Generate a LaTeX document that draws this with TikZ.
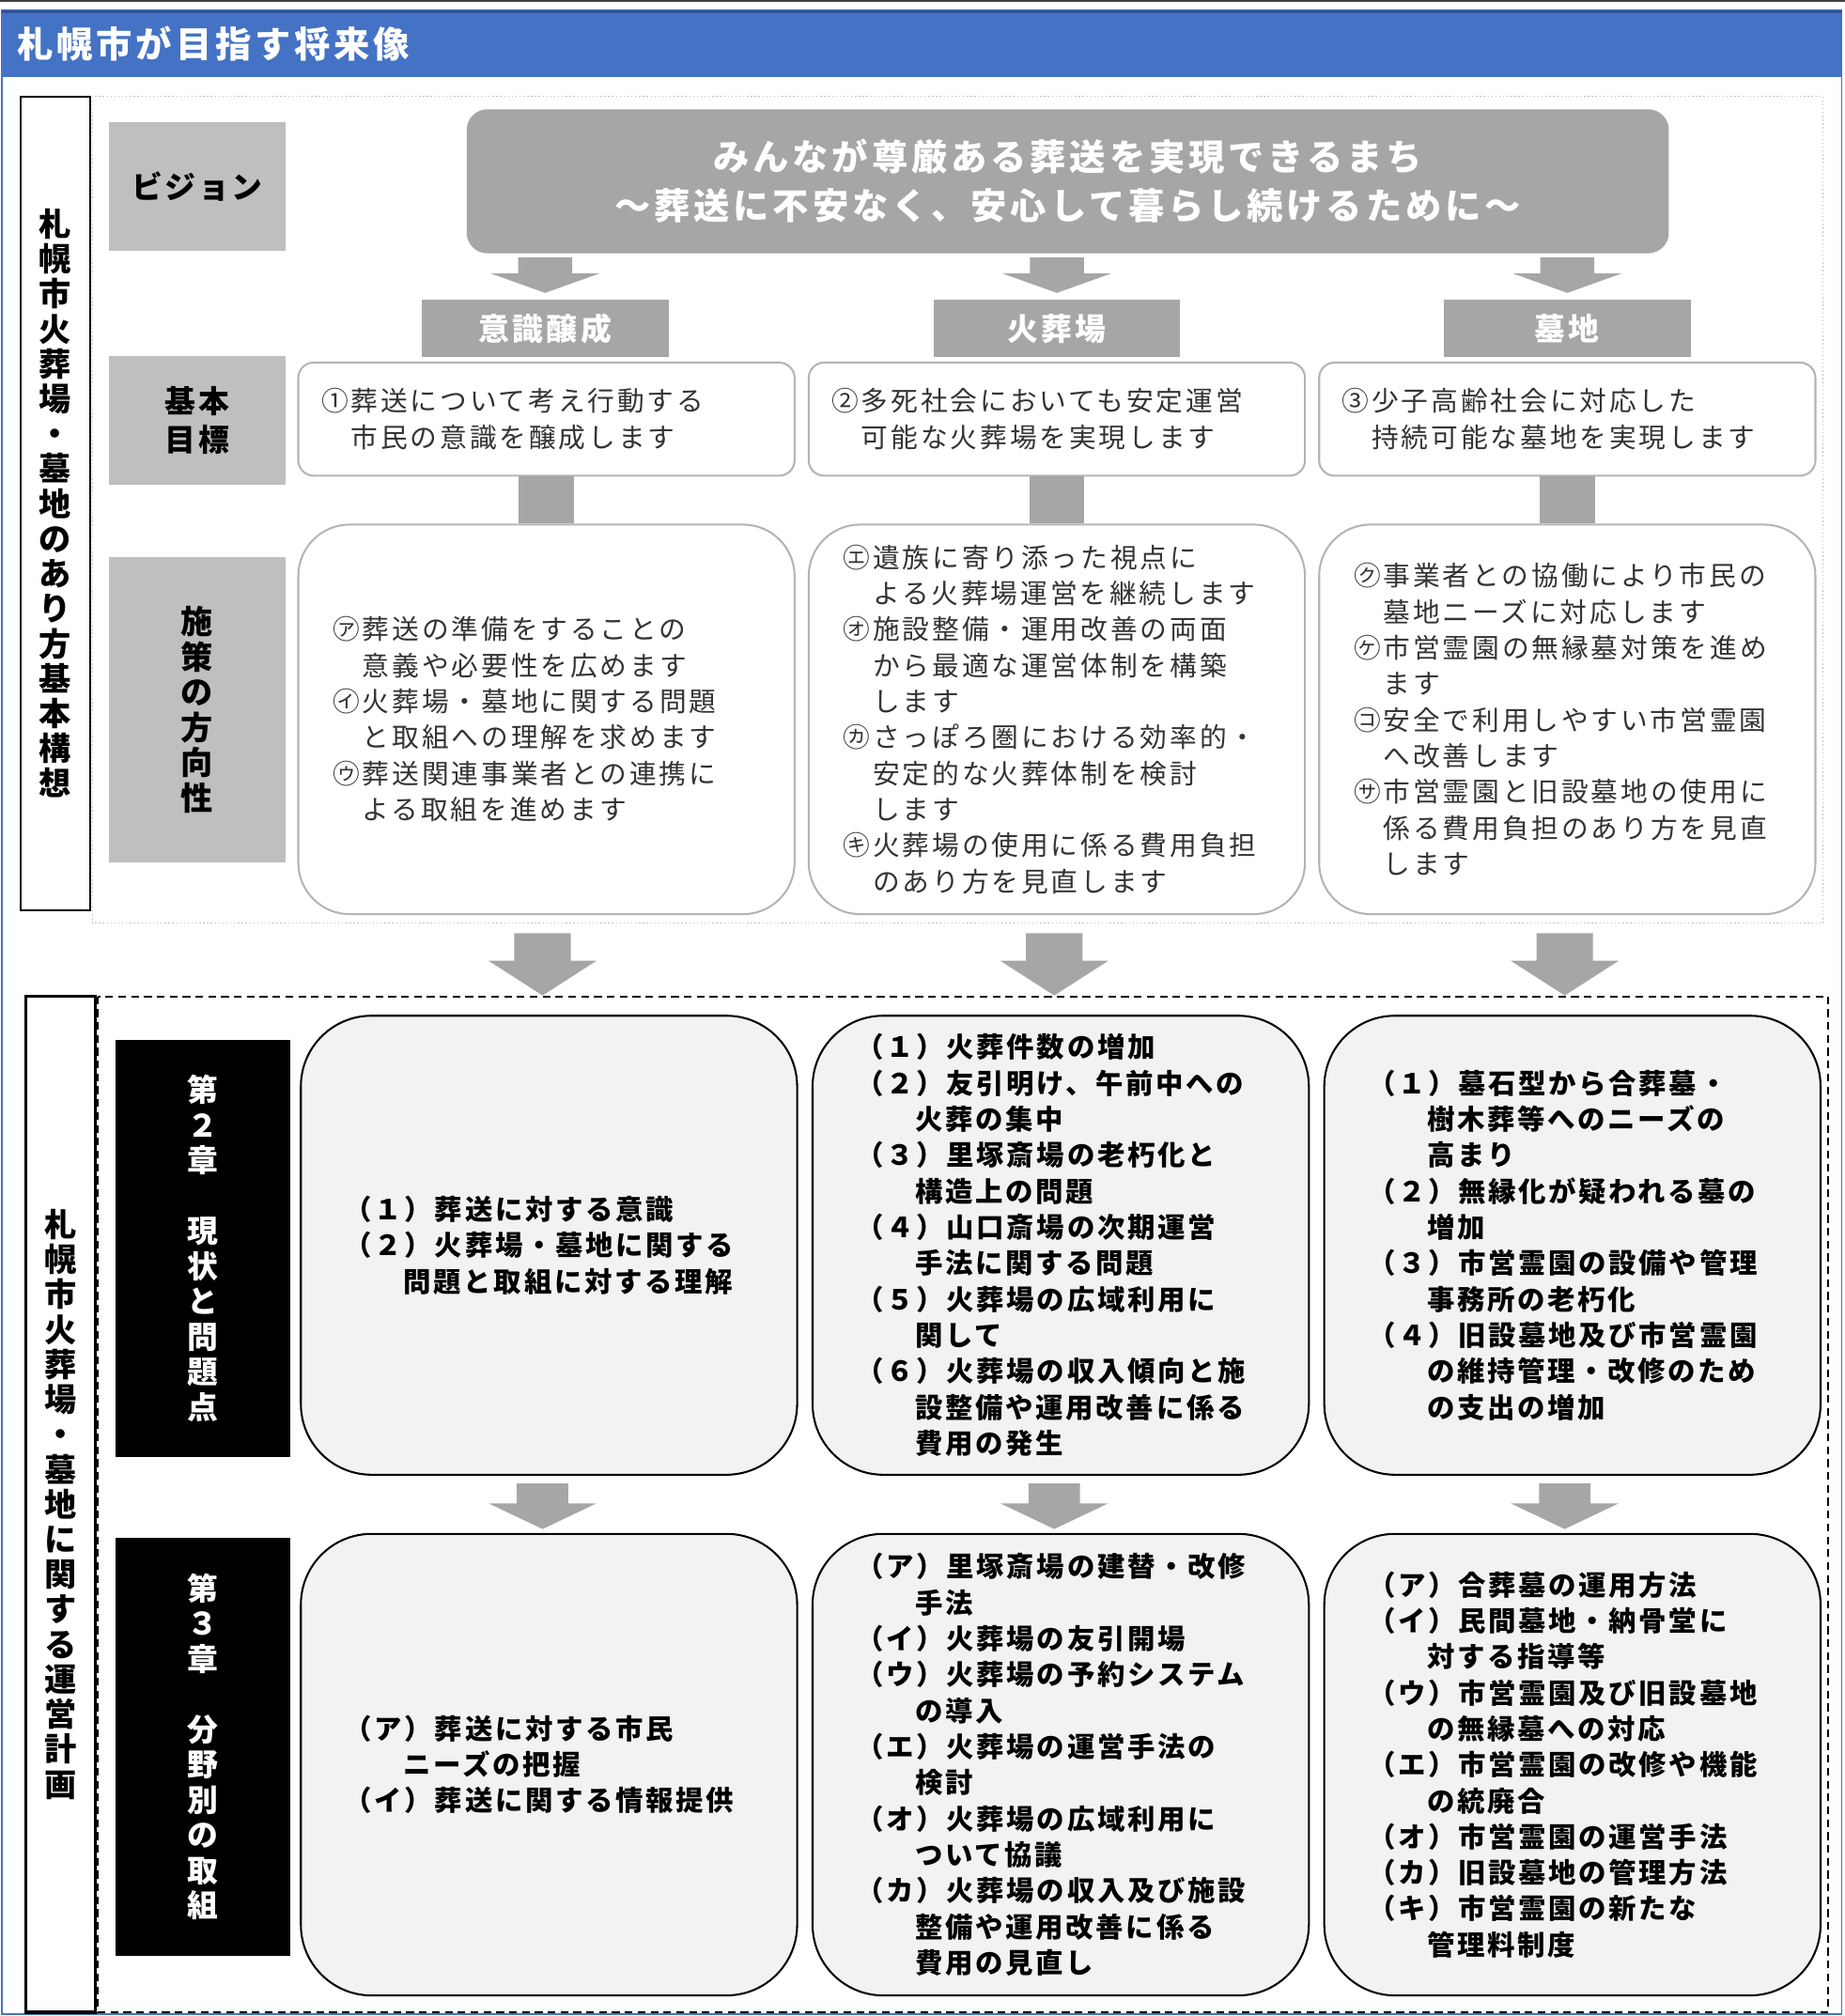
\documentclass[tikz,border=0pt]{standalone}
\usepackage{fontspec}
\setmainfont{Noto Sans CJK JP}
\usepackage{tikz}
\usetikzlibrary{calc, positioning}

\definecolor{headblue}{HTML}{4472C4}
\definecolor{headline}{HTML}{2F5597}
\definecolor{lblgray}{HTML}{BFBFBF}
\definecolor{midgray}{HTML}{A6A6A6}
\definecolor{boxline}{HTML}{B4B4B4}
\definecolor{boxfill}{HTML}{F2F2F2}

\newcommand{\uppertxt}{\fontsize{21}{28}\selectfont\addfontfeature{LetterSpace=10}}
\newcommand{\lowertxt}{\bfseries\fontsize{21.5}{28}\selectfont\addfontfeature{LetterSpace=9}}
\newcommand{\labeltxt}{\bfseries\fontsize{24}{30}\selectfont\addfontfeature{LetterSpace=8}}
\newcommand{\indt}{\hspace*{46pt}}
\newcommand{\sub}{\hspace*{23pt}}
\newcommand{\mk}[1]{\makebox[23pt][l]{#1}}
% block arrow: top point, tip point, half shaft, half head, head length
\newcommand{\blockarrow}[5]{%
  \fill[arrowfill] let \p1=#1, \p2=#2 in
    (\x1-#3,\y1) -- (\x1+#3,\y1) -- (\x1+#3,\y2+#5) -- (\x1+#4,\y2+#5)
    -- (\x1,\y2) -- (\x1-#4,\y2+#5) -- (\x1-#3,\y2+#5) -- cycle;}

\tikzstyle{rowlabel} = [rectangle, fill=lblgray, minimum width=137pt, inner sep=0pt, align=center, font=\labeltxt]
\tikzstyle{chaplabel} = [rectangle, fill=black, text=white, minimum width=136pt, inner sep=0pt, align=center, font=\bfseries\fontsize{24}{27.4}\selectfont]
\tikzstyle{planlabel} = [rectangle, draw=black, line width=1.5pt, minimum width=54pt, inner sep=0pt, align=center, font=\bfseries\fontsize{25}{27.2}\selectfont]
\tikzstyle{catlabel} = [rectangle, fill=midgray, text=white, minimum width=192pt, minimum height=45pt, inner sep=0pt, font=\bfseries\fontsize{24}{26}\selectfont\addfontfeature{LetterSpace=10}]
\tikzstyle{goalbox} = [rectangle, rounded corners=12pt, draw=boxline, line width=1.5pt, fill=white, inner ysep=0pt, inner xsep=18pt, text width=350pt, minimum height=88pt, align=left, text=black!80, font=\uppertxt]
\tikzstyle{policybox} = [goalbox, rounded corners=40pt, inner xsep=27pt, text width=332pt, minimum height=303pt]
\tikzstyle{planbox} = [rectangle, rounded corners=55pt, draw=black, line width=1.5pt, fill=boxfill, inner ysep=0pt, inner xsep=34pt, text width=318pt, align=left, font=\lowertxt]
\tikzstyle{arrowfill} = [fill=midgray]

\begin{document}
\begin{tikzpicture}[x=1pt, y=-1pt]
\useasboundingbox (0,0) rectangle (1435,1568);

% frame and header
\draw[black!75, line width=1.2pt] (0,0.6) -- (1435,0.6);
\draw[headblue, line width=1.2pt] (1.5,8) rectangle (1432.5,1566.5);
\fill[headblue] (1.5,8) rectangle (1432.5,60);
\draw[headline, line width=2pt] (1.5,9) -- (1432.5,9);
\node (title) [anchor=west, text=white, font=\bfseries\fontsize{28}{30}\selectfont\addfontfeature{LetterSpace=10}] at (10,34) {札幌市が目指す将来像};

% upper part: basic concept
\draw[lblgray, dotted, line width=1pt] (72,75) rectangle (1418,718);
\node (plan1) [planlabel, minimum height=633pt] at (43,391.5) {札\\幌\\市\\火\\葬\\場\\・\\墓\\地\\の\\あ\\り\\方\\基\\本\\構\\想};

\node (lblvision) [rowlabel, minimum height=100pt] at (153.5,145) {ビジョン};
\node (lblgoal) [rowlabel, minimum height=100pt] at (153.5,327) {基本\\目標};
\node (lblpolicy) [rowlabel, minimum height=238pt, font=\bfseries\fontsize{25}{27.5}\selectfont] at (153.5,552) {施\\策\\の\\方\\向\\性};

\node (vision) [rectangle, rounded corners=16pt, fill=midgray, text=white, minimum width=935pt, minimum height=112pt, align=center, font=\bfseries\fontsize{28}{38}\selectfont\addfontfeature{LetterSpace=10}] at (830.5,141) {みんなが尊厳ある葬送を実現できるまち\\～葬送に不安なく、安心して暮らし続けるために～};

\node (catAware) [catlabel] at (424,255.5) {意識醸成};
\node (catCrem) [catlabel] at (822,255.5) {火葬場};
\node (catCem) [catlabel] at (1219,255.5) {墓地};

\node (goalA) [goalbox] at (425,326) {\mk{①}葬送について考え行動する\\\sub 市民の意識を醸成します};
\node (goalB) [goalbox] at (822,326) {\mk{②}多死社会においても安定運営\\\sub 可能な火葬場を実現します};
\node (goalC) [goalbox] at (1219,326) {\mk{③}少子高齢社会に対応した\\\sub 持続可能な墓地を実現します};

\node (policyA) [policybox] at (425,559.5) {\mk{㋐}葬送の準備をすることの\\\sub 意義や必要性を広めます\\\mk{㋑}火葬場・墓地に関する問題\\\sub と取組への理解を求めます\\\mk{㋒}葬送関連事業者との連携に\\\sub よる取組を進めます};
\node (policyB) [policybox] at (822,559.5) {\mk{㋓}遺族に寄り添った視点に\\\sub よる火葬場運営を継続します\\\mk{㋔}施設整備・運用改善の両面\\\sub から最適な運営体制を構築\\\sub します\\\mk{㋕}さっぽろ圏における効率的・\\\sub 安定的な火葬体制を検討\\\sub します\\\mk{㋖}火葬場の使用に係る費用負担\\\sub のあり方を見直します};
\node (policyC) [policybox] at (1219,559.5) {\mk{㋗}事業者との協働により市民の\\\sub 墓地ニーズに対応します\\\mk{㋘}市営霊園の無縁墓対策を進め\\\sub ます\\\mk{㋙}安全で利用しやすい市営霊園\\\sub へ改善します\\\mk{㋚}市営霊園と旧設墓地の使用に\\\sub 係る費用負担のあり方を見直\\\sub します};

% connectors, upper part
\blockarrow{($(vision.south -| catAware)+(0,3)$)}{($(catAware.north)+(0,-5)$)}{21pt}{42pt}{15pt}
\blockarrow{($(vision.south -| catCrem)+(0,3)$)}{($(catCrem.north)+(0,-5)$)}{21pt}{42pt}{15pt}
\blockarrow{($(vision.south -| catCem)+(0,3)$)}{($(catCem.north)+(0,-5)$)}{21pt}{42pt}{15pt}
\foreach \c in {A,B,C}
  \fill[arrowfill] ($(goal\c.south)+(-21.5,0)$) rectangle ($(policy\c.north)+(21.5,0)$);

% lower part: operation plan
\draw[black, dashed, dash pattern=on 6pt off 4pt, line width=1.2pt] (76,775) rectangle (1422,1565);
\node (plan2) [planlabel, line width=2.5pt, minimum height=790pt] at (47,1170) {札\\幌\\市\\火\\葬\\場\\・\\墓\\地\\に\\関\\す\\る\\運\\営\\計\\画};

\node (ch2) [chaplabel, minimum height=324pt] at (158,971) {第\\２\\章\\　\\現\\状\\と\\問\\題\\点};
\node (ch3) [chaplabel, minimum height=325pt] at (158,1358.5) {第\\３\\章\\　\\分\\野\\別\\の\\取\\組};

\node (issueA) [planbox, minimum height=357pt] at (427,968.5) {（１）葬送に対する意識\\（２）火葬場・墓地に関する\\\indt 問題と取組に対する理解};
\node (issueB) [planbox, minimum height=357pt] at (825,968.5) {（１）火葬件数の増加\\（２）友引明け、午前中への\\\indt 火葬の集中\\（３）里塚斎場の老朽化と\\\indt 構造上の問題\\（４）山口斎場の次期運営\\\indt 手法に関する問題\\（５）火葬場の広域利用に\\\indt 関して\\（６）火葬場の収入傾向と施\\\indt 設整備や運用改善に係る\\\indt 費用の発生};
\node (issueC) [planbox, minimum height=357pt] at (1223,968.5) {（１）墓石型から合葬墓・\\\indt 樹木葬等へのニーズの\\\indt 高まり\\（２）無縁化が疑われる墓の\\\indt 増加\\（３）市営霊園の設備や管理\\\indt 事務所の老朽化\\（４）旧設墓地及び市営霊園\\\indt の維持管理・改修のため\\\indt の支出の増加};

\node (actA) [planbox, minimum height=359pt] at (427,1372.5) {（ア）葬送に対する市民\\\indt ニーズの把握\\（イ）葬送に関する情報提供};
\node (actB) [planbox, minimum height=359pt] at (825,1372.5) {（ア）里塚斎場の建替・改修\\\indt 手法\\（イ）火葬場の友引開場\\（ウ）火葬場の予約システム\\\indt の導入\\（エ）火葬場の運営手法の\\\indt 検討\\（オ）火葬場の広域利用に\\\indt ついて協議\\（カ）火葬場の収入及び施設\\\indt 整備や運用改善に係る\\\indt 費用の見直し};
\node (actC) [planbox, minimum height=359pt] at (1223,1372.5) {（ア）合葬墓の運用方法\\（イ）民間墓地・納骨堂に\\\indt 対する指導等\\（ウ）市営霊園及び旧設墓地\\\indt の無縁墓への対応\\（エ）市営霊園の改修や機能\\\indt の統廃合\\（オ）市営霊園の運営手法\\（カ）旧設墓地の管理方法\\（キ）市営霊園の新たな\\\indt 管理料制度};

% connectors, lower part
\blockarrow{($(policyA.south)+(-3,14)$)}{($(issueA.north)+(0,-15)$)}{22pt}{42pt}{27pt}
\blockarrow{($(policyB.south)+(-2,14)$)}{($(issueB.north)+(0,-15)$)}{22pt}{42pt}{27pt}
\blockarrow{($(policyC.south)+(-2,14)$)}{($(issueC.north)+(0,-15)$)}{22pt}{42pt}{27pt}
\blockarrow{($(issueA.south)+(-5,6)$)}{($(actA.north)+(0,-3)$)}{20pt}{42pt}{20pt}
\blockarrow{($(issueB.south)+(-5,6)$)}{($(actB.north)+(0,-3)$)}{20pt}{42pt}{20pt}
\blockarrow{($(issueC.south)+(-6,6)$)}{($(actC.north)+(0,-3)$)}{20pt}{42pt}{20pt}
\end{tikzpicture}
\end{document}
